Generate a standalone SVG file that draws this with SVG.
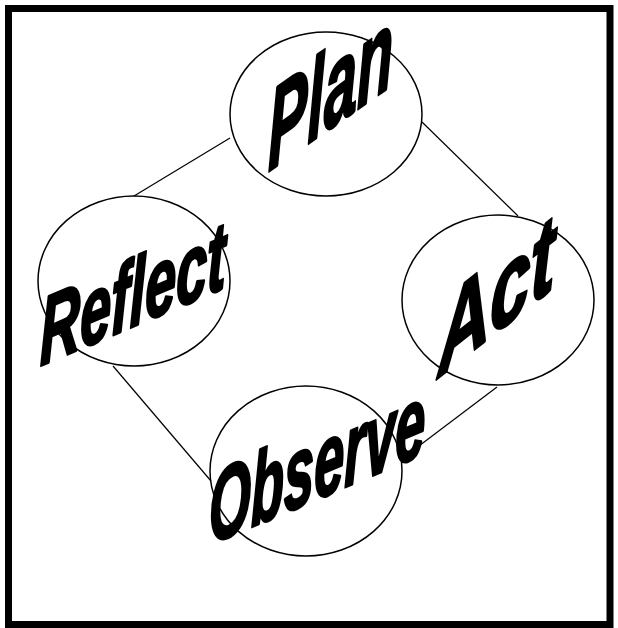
<svg xmlns="http://www.w3.org/2000/svg" width="618" height="628" viewBox="0 0 618 628">
<style>
.node ellipse{fill:none;stroke:#000;stroke-width:1.5}
.conn line{stroke:#000;stroke-width:1.2}
.lbl{font-family:"Liberation Sans",Arial,sans-serif;font-weight:bold;font-style:italic;fill:#000;stroke:#000;stroke-width:3;stroke-linejoin:round}
</style>
<rect x="0" y="0" width="618" height="628" fill="#fff"/>
<rect x="8.5" y="8.5" width="601.5" height="616" fill="none" stroke="#000" stroke-width="7"/>
<g id="connectors" class="conn">
<line x1="230" y1="138" x2="134" y2="196"/>
<line x1="422" y1="122" x2="518" y2="216"/>
<line x1="113" y1="366" x2="211" y2="481"/>
<line x1="497" y1="387" x2="403" y2="458"/>
</g>
<g id="plan" class="node">
<ellipse cx="326" cy="114" rx="96" ry="82"/>
<text class="lbl" font-size="114" transform="translate(268,172) skewY(-35) scale(0.52,1)">Plan</text>
</g>
<g id="reflect" class="node">
<ellipse cx="134" cy="281" rx="96" ry="85"/>
<text class="lbl" font-size="96" transform="translate(40,366) skewY(-23) scale(0.58,1)">Reflect</text>
</g>
<g id="act" class="node">
<ellipse cx="498" cy="300" rx="96" ry="85"/>
<text class="lbl" font-size="108" transform="translate(438,378) skewY(-38) scale(0.67,1)">Act</text>
</g>
<g id="observe" class="node">
<ellipse cx="306" cy="471" rx="96" ry="85"/>
<text class="lbl" font-size="102" transform="translate(209,545) skewY(-23) scale(0.53,1)">Observe</text>
</g>
</svg>
